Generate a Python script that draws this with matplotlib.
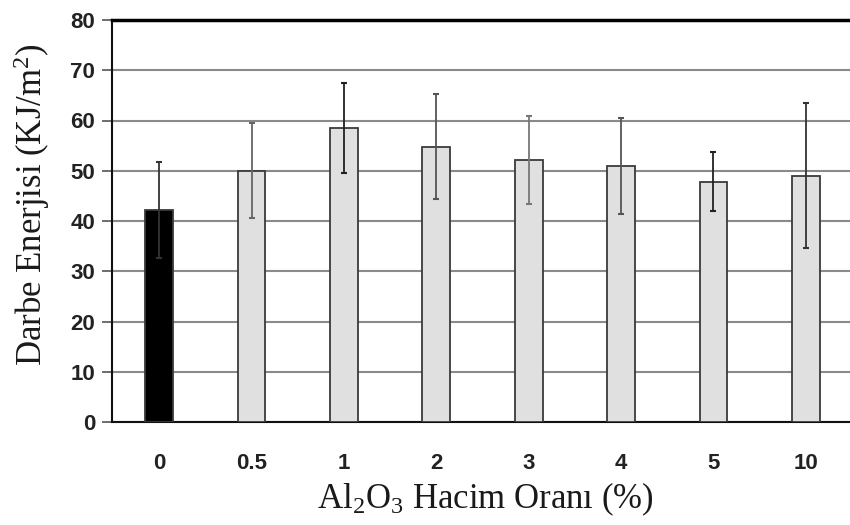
import matplotlib
matplotlib.use("Agg")
import matplotlib.pyplot as plt
import numpy as np

categories = ["0", "0.5", "1", "2", "3", "4", "5", "10"]
values = [42.2, 50.0, 58.5, 54.8, 52.1, 50.9, 47.8, 49.0]
errors = [9.5, 9.5, 9.0, 10.4, 8.8, 9.6, 5.9, 14.4]
yticks = [0, 10, 20, 30, 40, 50, 60, 70, 80]

fill_colors = ["#000000"] + ["#e0e0e0"] * 7
err_colors = ["#333333", "#666666", "#222222", "#555555", "#777777", "#555555", "#222222", "#333333"]

plt.rcParams["mathtext.fontset"] = "custom"
plt.rcParams["mathtext.rm"] = "Liberation Serif"
plt.rcParams["mathtext.it"] = "Liberation Serif:italic"

fig = plt.figure(figsize=(8.5, 5.25), dpi=100)
ax = fig.add_axes([112 / 850, 1 - 422 / 525, 1 - 112 / 850 + 0.01, (422 - 20) / 525])

x = np.arange(len(categories))
ax.bar(x, values, width=0.3, color=fill_colors, edgecolor="#3a3a3a", linewidth=1.3, zorder=3)
for xi, v, e, c in zip(x, values, errors, err_colors):
    ax.errorbar(xi, v, yerr=e, fmt="none", ecolor=c, elinewidth=1.3, capsize=2.5, capthick=1.5, zorder=4)

ax.set_ylim(0, 80)
ax.set_xlim(-0.51, 7.57)
ax.set_yticks(yticks)
ax.set_xticks(x)
ax.set_xticklabels(categories)
ax.yaxis.grid(True, color="#8a8a8a", linewidth=1.5, zorder=0)
ax.set_axisbelow(True)

for s in ["left", "bottom"]:
    ax.spines[s].set_color("#111111")
    ax.spines[s].set_linewidth(1.5)
ax.spines["top"].set_color("#000000")
ax.spines["top"].set_linewidth(2.5)
ax.spines["right"].set_visible(False)

ax.tick_params(axis="y", direction="out", length=7, width=1.2, color="#555555", pad=5)
ax.tick_params(axis="x", length=0, pad=22)
for lab in ax.get_yticklabels() + ax.get_xticklabels():
    lab.set_fontfamily("Liberation Sans")
    lab.set_fontweight("bold")
    lab.set_fontsize(16)
    lab.set_color("#222222")

ax.set_ylabel("Darbe Enerjisi (KJ/m$^2$)", fontfamily="Liberation Serif", fontsize=25,
              color="#1a1a1a", labelpad=13)
ax.yaxis.label.set_y(0.54)
ax.set_xlabel("Al$_2$O$_3$ Hacim Oranı (%)", fontfamily="Liberation Serif", fontsize=25,
              color="#1a1a1a", labelpad=5)

fig.savefig("out.png", dpi=100)
